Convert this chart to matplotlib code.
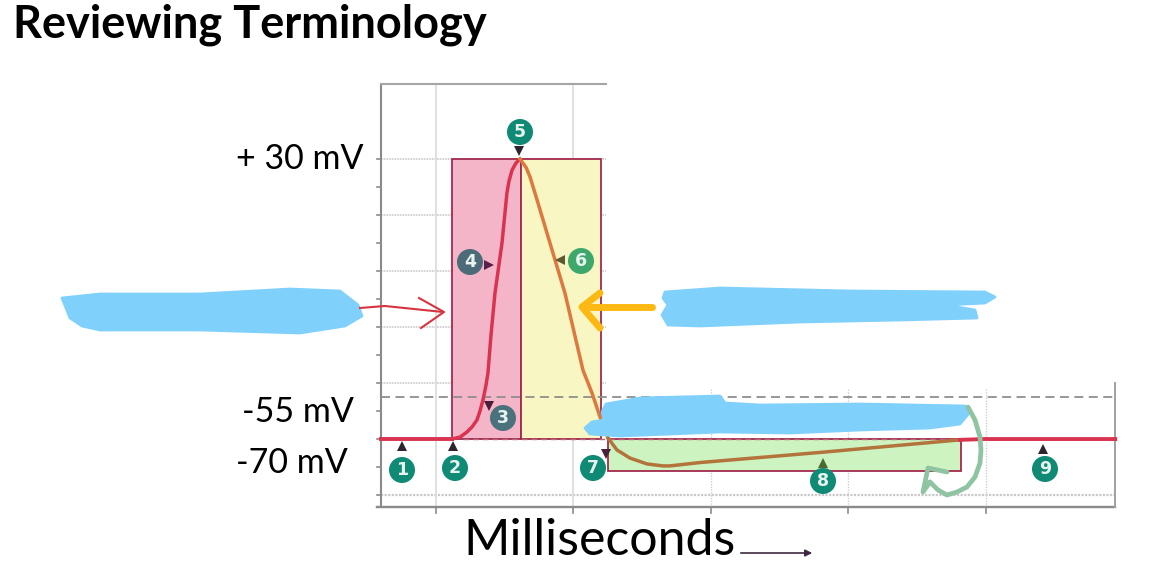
import matplotlib
matplotlib.use('Agg')
import matplotlib.pyplot as plt
from matplotlib.patches import Circle, Rectangle

# DATA
# membrane potential (ms, mV)
restX = [-0.40, 0.12]
restY = [-70, -70]
riseX = [0.116, 0.175, 0.225, 0.262, 0.298, 0.32, 0.342, 0.364, 0.378, 0.40, 0.429, 0.48, 0.516, 0.531, 0.553, 0.582, 0.611]
riseY = [-70, -69.3, -67.5, -65.7, -63.2, -60, -56, -50.7, -46.4, -32.9, -17.9, 0, 17.9, 22.1, 26, 28.6, 30]
fallX = [0.611, 0.655, 0.684, 0.735, 0.829, 0.938, 1.069, 1.135, 1.193, 1.251]
fallY = [30, 27, 23.6, 15.4, 0, -17.9, -45.4, -53.6, -62.1, -69.6]
underX = [1.251, 1.316, 1.411, 1.535, 1.651, 1.70, 1.92, 2.79, 3.81]
underY = [-69.6, -73.9, -76.8, -78.9, -79.6, -79.6, -78.4, -74.8, -70.3]
endX = [3.81, 3.99, 4.94]
endY = [-70.3, -70, -70]

# phase boxes (ms start, ms end, mV top, mV bottom)
depolBox = [0.116, 0.618, 30, -70]
repolBox = [0.618, 1.20, 30, -70]
hyperBox = [1.25, 3.82, -70, -81.4]

# axis ticks
xTicks = [0, 1, 2, 3, 4]
yMajor = [30, 10, -10, -30, -50, -70, -90]
yMinor = [20, 0, -20, -40, -60, -80]
threshold = -55
yLabels = ['+ 30 mV', '-55 mV', '-70 mV']
xTitle = 'Milliseconds'
title = 'Reviewing Terminology'

# numbered badges in picture pixels: number, x, y, colour
badges = [(1, 402, 470, '#0f8a74'), (2, 455, 468, '#0f8a74'), (3, 503, 418, '#4a727c'),
          (4, 470, 262, '#4b6b78'), (5, 520, 132, '#0f8a74'), (6, 581, 261, '#3ea76c'),
          (7, 593, 468, '#0f8a74'), (8, 823, 481, '#0f8a74'), (9, 1045, 469, '#0f8a74')]
# pointer triangles: x, y, marker, colour
pointers = [(402, 446, '^', '#2e2430'), (453, 446, '^', '#2e2430'), (489, 406, 'v', '#4a2038'),
            (489, 265, '>', '#5a2048'), (519, 151, 'v', '#2e2430'), (560, 260, '<', '#5c5a30'),
            (606, 454, 'v', '#4a2038'), (823, 463, '^', '#4c6a30'), (1043, 449, '^', '#2e2430')]

# FIGURE
fig = plt.figure(figsize=(11.68, 5.88), dpi=100)
plt.rcParams['font.family'] = ['Lato', 'DejaVu Sans']

# data axes fill the figure, limits chosen so the ms / mV scales land where they do in the picture
ax = fig.add_axes([0, 0, 1, 1])
ax.set_xlim(-3.171, 5.324)
ax.set_ylim(-123.2, 86.79)
ax.axis('off')

# overlay in pixels for the hand drawn things
px = fig.add_axes([0, 0, 1, 1])
px.set_xlim(0, 1168)
px.set_ylim(588, 0)
px.axis('off')
px.patch.set_alpha(0)

bottom = -94.3

# grid
gridCol = '#c9c9c9'
for v in yMajor[:-2]:
    ax.plot([-0.40, 1.24], [v, v], color=gridCol, lw=1.2, ls=(0, (1, 0.6)), zorder=1)
ax.plot([-0.40, 4.94], [-90, -90], color=gridCol, lw=1.6, ls=(0, (1, 0.6)), zorder=1)
for t in xTicks[:2]:
    ax.plot([t, t], [bottom, 56.8], color='#dddddd', lw=1.3, zorder=1)
for t in xTicks[2:]:
    ax.plot([t, t], [bottom, -52], color='#cfcfcf', lw=1.0, ls=(0, (1, 1)), zorder=1)

# frame
frameCol = '#8a8a8a'
ax.plot([-0.40, -0.40], [bottom, 56.8], color=frameCol, lw=1.5, zorder=2)
ax.plot([-0.40, 1.24], [56.8, 56.8], color='#a5a5a5', lw=1.5, zorder=2)
ax.plot([-0.43, 4.94], [bottom, bottom], color=frameCol, lw=1.7, zorder=2)
ax.plot([4.94, 4.94], [bottom, -50], color='#a0a0a0', lw=1.4, zorder=2)
for v in yMajor + yMinor:
    ax.plot([-0.43, -0.40], [v, v], color=frameCol, lw=1.2, zorder=2)
for t in xTicks:
    ax.plot([t, t], [bottom - 2, bottom], color=frameCol, lw=1.2, zorder=2)

# phase boxes
boxEdge = '#a22a4e'
for box, col in [(depolBox, '#f5b5c9'), (repolBox, '#f8f6c2'), (hyperBox, '#cdf3c1')]:
    ax.add_patch(Rectangle((box[0], box[3]), box[1] - box[0], box[2] - box[3],
                           facecolor=col, edgecolor=boxEdge, lw=1.3, zorder=3))

# threshold and resting dashes
ax.plot([-0.40, 4.94], [threshold, threshold], color='#8f8f8f', lw=1.3, ls=(0, (5, 3)), zorder=4)
ax.plot([0.2, 3.8], [-70, -70], color='#b56a7a', lw=1, ls=(0, (4, 3)), zorder=4)

# potential curve
ax.plot(restX, restY, color='#d9334f', lw=2.8, zorder=5)
ax.plot(riseX, riseY, color='#d9334f', lw=2.5, zorder=5)
ax.plot(fallX, fallY, color='#dd7840', lw=2.5, zorder=5)
ax.plot(underX, underY, color='#b3743c', lw=2.5, zorder=5)
ax.plot(endX, endY, color='#d9334f', lw=2.8, zorder=5)

# badges
for n, x, y, col in badges:
    px.add_patch(Circle((x, y), 13, facecolor=col, edgecolor='none', zorder=6))
    px.text(x, y, str(n), color='#e8f3ef', fontsize=12.5, fontweight='bold',
            ha='center', va='center', family='DejaVu Sans', zorder=7)
for x, y, m, col in pointers:
    px.plot(x, y, marker=m, color=col, ms=7, mew=0, zorder=7)

# covered labels, blue scribbles
blue = '#80d0fc'
blobs = [
    [(62, 298), (100, 294), (200, 294), (290, 289), (340, 291), (358, 305), (362, 316), (345, 326),
     (300, 333), (200, 330), (100, 330), (82, 326), (70, 318), (66, 308)],
    [(665, 292), (720, 288), (850, 291), (985, 292), (995, 297), (985, 303), (945, 305), (975, 310),
     (977, 318), (900, 320), (800, 322), (700, 326), (668, 325), (662, 315), (668, 305), (663, 298)],
    [(606, 404), (640, 398), (720, 396), (725, 403), (760, 405), (860, 404), (965, 406), (970, 412),
     (960, 424), (930, 428), (860, 430), (790, 433), (720, 432), (620, 436), (590, 434), (585, 428),
     (592, 422), (604, 420), (602, 412)],
]
for b in blobs:
    px.fill([p[0] for p in b], [p[1] for p in b], facecolor=blue, edgecolor=blue, lw=2,
            joinstyle='round', zorder=8)

# hand drawn arrows
px.plot([360, 385, 443], [308, 306, 312], color='#d8343f', lw=1.5, zorder=9)
px.plot([419, 444, 421], [298, 312, 328], color='#d8343f', lw=1.5, zorder=9)
px.plot([652, 590], [307, 307], color='#fdb913', lw=5, solid_capstyle='round', zorder=9)
px.plot([600, 582, 600], [293, 307, 328], color='#fdb913', lw=5,
        solid_capstyle='round', solid_joinstyle='round', zorder=9)
green = '#8fc4a2'
px.plot([968, 975, 980, 981, 980, 975, 967, 957, 947, 938, 930],
        [407, 420, 437, 450, 463, 477, 487, 492, 495, 490, 482],
        color=green, lw=3.4, solid_capstyle='round', solid_joinstyle='round', zorder=9)
px.plot([947, 928, 923, 930], [472, 468, 492, 482], color=green, lw=3.4,
        solid_capstyle='round', solid_joinstyle='round', zorder=9)

# text
px.text(13, 25, title, fontsize=32.5, fontweight='bold', color='black', va='center', ha='left')
px.text(364, 159, yLabels[0], fontsize=24.5, color='black', va='center', ha='right')
px.text(354, 412, yLabels[1], fontsize=24.5, color='black', va='center', ha='right')
px.text(348, 463, yLabels[2], fontsize=24.5, color='black', va='center', ha='right')
px.text(463, 541, xTitle, fontsize=36, color='black', va='center', ha='left')
px.annotate('', xy=(815, 553), xytext=(738, 553),
            arrowprops=dict(arrowstyle='-|>', color='#3d2a40', lw=1.2, mutation_scale=10))

fig.savefig('out.png', dpi=100)
